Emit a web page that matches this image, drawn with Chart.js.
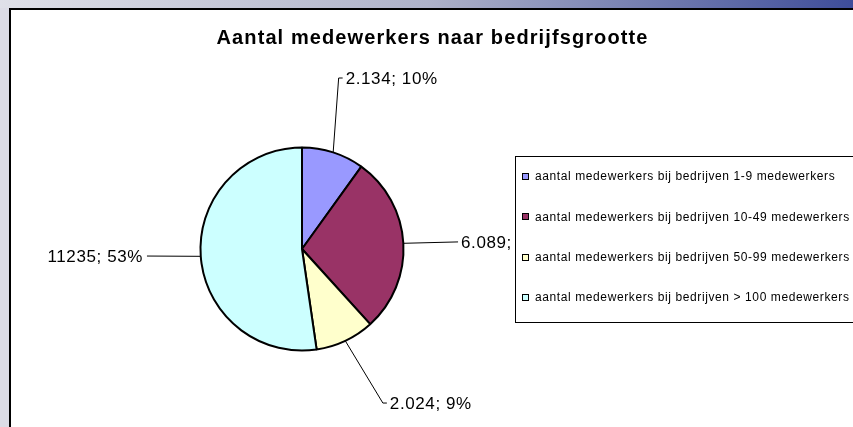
<!DOCTYPE html>
<html>
<head>
<meta charset="utf-8">
<script src="https://cdn.jsdelivr.net/npm/chart.js@4.4.1/dist/chart.umd.min.js"></script>
<style>
  html, body { margin: 0; padding: 0; width: 853px; height: 427px; overflow: hidden; background: #dcdce6; }
  #band { position: absolute; left: 0; top: 0; width: 853px; height: 8px;
          background: linear-gradient(to right, #dfe0e8, #aeb2c9 50%, #3e4d9a); }
  #panel { position: absolute; left: 9px; top: 8px; width: 900px; height: 500px; background: #fff;
           border-left: 2px solid #000; border-top: 2px solid #000; }
  #chart { position: absolute; left: 0; top: 0; }
</style>
</head>
<body>
<div id="band"></div>
<div id="panel"></div>
<canvas id="chart" width="853" height="427"></canvas>
<script>
const chartTitle = 'Aantal medewerkers naar bedrijfsgrootte';
const categories = [
    'aantal medewerkers bij bedrijven 1-9 medewerkers',
    'aantal medewerkers bij bedrijven 10-49 medewerkers',
    'aantal medewerkers bij bedrijven 50-99 medewerkers',
    'aantal medewerkers bij bedrijven > 100 medewerkers'
];
const employees = [2134, 6089, 2024, 11235];
const valueLabels = ['2.134', '6.089', '2.024', '11235'];
const percentLabels = ['10%', '28%', '9%', '53%'];
const sliceColors = ['#9999FF', '#993366', '#FFFFCC', '#CCFFFF'];

// where each data label sits: angle (deg, clockwise from top) and distance in pie radii
const labelSpots = [
    { deg: 12.1, dist: 1.723, side: 'right', tick: 4 },
    { deg: 87.4, dist: 1.539, side: 'right', tick: 0 },
    { deg: 152.3, dist: 1.714, side: 'right', tick: 4 },
    { deg: 267.4, dist: 1.529, side: 'left', tick: 0 }
];

const excelDecor = {
    id: 'excelDecor',
    afterDatasetsDraw(chart) {
        const ctx = chart.ctx;
        const meta = chart.getDatasetMeta(0);
        ctx.save();

        // data labels with leader lines
        ctx.strokeStyle = '#000';
        ctx.lineWidth = 1;
        ctx.fillStyle = '#000';
        ctx.font = '17px "Liberation Sans", Arial, sans-serif';
        ctx.letterSpacing = '0.6px';
        ctx.textBaseline = 'middle';
        meta.data.forEach((arc, i) => {
            const mid = (arc.startAngle + arc.endAngle) / 2;
            const sx = arc.x + Math.cos(mid) * arc.outerRadius;
            const sy = arc.y + Math.sin(mid) * arc.outerRadius;
            const spot = labelSpots[i];
            const a = spot.deg * Math.PI / 180 - Math.PI / 2;
            const ex = arc.x + Math.cos(a) * arc.outerRadius * spot.dist;
            const ey = arc.y + Math.sin(a) * arc.outerRadius * spot.dist;
            const dir = spot.side === 'right' ? 1 : -1;
            ctx.beginPath();
            ctx.moveTo(sx, sy);
            ctx.lineTo(ex, ey);
            ctx.lineTo(ex + dir * spot.tick, ey);
            ctx.stroke();
            const text = valueLabels[i] + '; ' + percentLabels[i];
            ctx.textAlign = 'left';
            if (dir > 0) {
                ctx.fillText(text, ex + spot.tick + 3, ey + 1);
            } else {
                const w = ctx.measureText(text).width;
                ctx.fillText(text, ex - 4 - w, ey + 1);
            }
        });

        // legend box
        const lx = 515.5, ly = 156.5, lw = 400, lh = 166;
        ctx.fillStyle = '#fff';
        ctx.fillRect(lx, ly, lw, lh);
        ctx.strokeRect(lx, ly, lw, lh);
        ctx.font = '12px "Liberation Sans", Arial, sans-serif';
        ctx.letterSpacing = '0.6px';
        ctx.textAlign = 'left';
        categories.forEach((name, i) => {
            const y = 177 + i * 40.3;
            ctx.fillStyle = sliceColors[i];
            ctx.fillRect(522.5, Math.round(y) - 3.5, 6, 6);
            ctx.strokeRect(522.5, Math.round(y) - 3.5, 6, 6);
            ctx.fillStyle = '#000';
            ctx.fillText(name, 535, y);
        });

        // title
        ctx.font = 'bold 20px "Liberation Sans", Arial, sans-serif';
        ctx.letterSpacing = '1.1px';
        ctx.textBaseline = 'alphabetic';
        const tw = ctx.measureText(chartTitle).width;
        ctx.fillText(chartTitle, 432.5 - tw / 2, 44);
        ctx.restore();
    }
};

new Chart(document.getElementById('chart'), {
    type: 'pie',
    data: {
        labels: categories,
        datasets: [{
            data: employees,
            backgroundColor: sliceColors,
            borderColor: '#000',
            borderWidth: 2
        }]
    },
    options: {
        responsive: false,
        animation: false,
        devicePixelRatio: 1,
        layout: { padding: { left: 199.5, right: 448.5, top: 145.5, bottom: 74.5 } },
        plugins: {
            legend: { display: false },
            title: { display: false },
            tooltip: { enabled: false }
        }
    },
    plugins: [excelDecor]
});
</script>
</body>
</html>
